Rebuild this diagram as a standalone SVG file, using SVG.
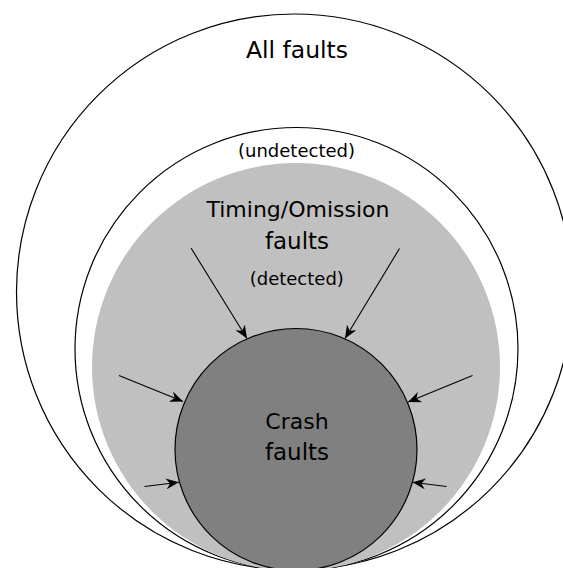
<svg xmlns="http://www.w3.org/2000/svg" width="563" height="568" viewBox="0 0 563 568">
  <style>
    .ring { fill: #ffffff; stroke: #000000; stroke-width: 1.2; }
    .band { fill: #c0c0c0; stroke: none; }
    .core { fill: #808080; stroke: #000000; stroke-width: 1.2; }
    .lbl { font-family: "DejaVu Sans", "Noto Sans", sans-serif; fill: #000000; text-anchor: middle; }
    .big { font-size: 23px; }
    .small { font-size: 18px; }
    .arrow { stroke: #000000; stroke-width: 1.1; fill: none; marker-end: url(#head); }
  </style>
  <defs>
    <marker id="head" markerUnits="userSpaceOnUse" markerWidth="14" markerHeight="12" refX="13" refY="5.5" orient="auto">
      <path d="M0,0 L13,5.5 L0,11 L4,5.5 Z" fill="#000000"/>
    </marker>
  </defs>
  <rect width="563" height="568" fill="#ffffff"/>

  <g id="all-faults">
    <circle class="ring" cx="294.5" cy="292" r="278"/>
    <text class="lbl" x="297" y="57.5" style="font-size:23.5px">All faults</text>
  </g>

  <g id="undetected">
    <circle class="ring" cx="296.5" cy="349" r="221.5"/>
    <text class="lbl small" x="296.5" y="157">(undetected)</text>
  </g>

  <g id="timing-omission">
    <circle class="band" cx="296" cy="367" r="204"/>
    <text class="lbl" x="298" y="216.5" style="font-size:22px">Timing/Omission</text>
    <text class="lbl big" x="297" y="248.5">faults</text>
    <text class="lbl small" x="296.8" y="284.5">(detected)</text>
  </g>

  <g id="crash">
    <circle class="core" cx="296" cy="449.5" r="121"/>
    <text class="lbl" x="297" y="428.5" style="font-size:22px">Crash</text>
    <text class="lbl big" x="297" y="460">faults</text>
  </g>

  <g id="connectors">
    <line class="arrow" x1="191" y1="248" x2="247" y2="338.5"/>
    <line class="arrow" x1="399.5" y1="248.5" x2="345" y2="338.5"/>
    <line class="arrow" x1="119" y1="375.5" x2="183" y2="401.5"/>
    <line class="arrow" x1="472.5" y1="375.5" x2="408" y2="402"/>
    <line class="arrow" x1="144.5" y1="486.5" x2="179" y2="482.3"/>
    <line class="arrow" x1="446.5" y1="486.5" x2="412.5" y2="482.3"/>
  </g>
</svg>
